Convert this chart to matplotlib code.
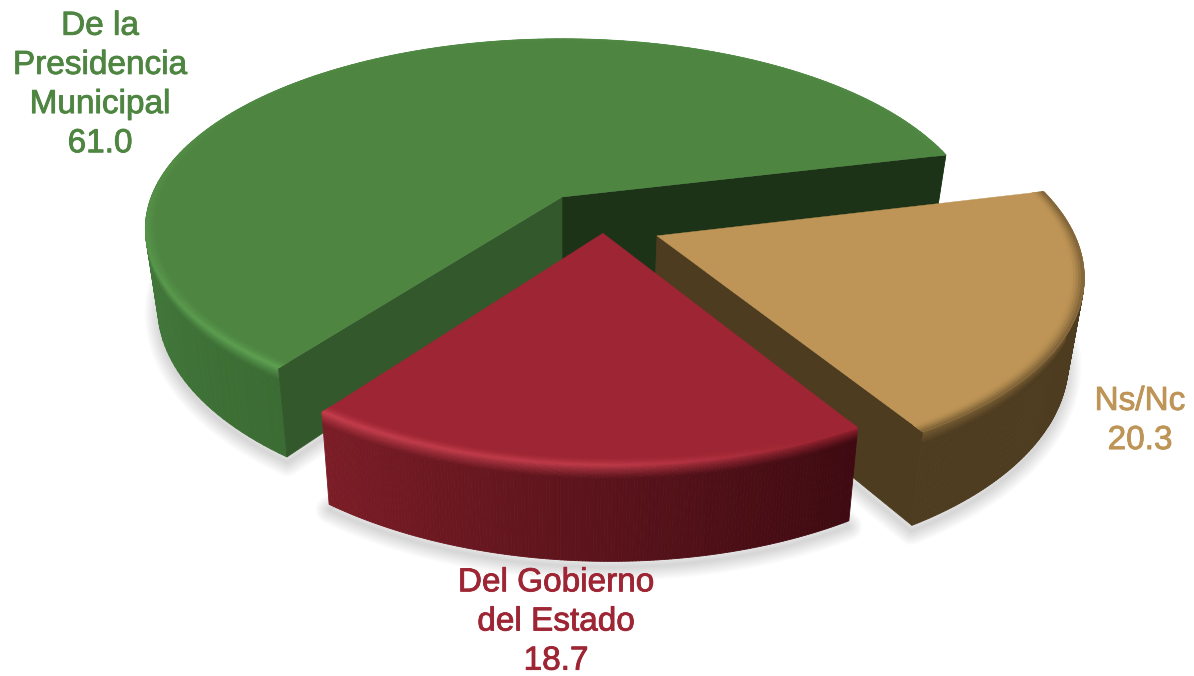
"""3D exploded pie, perspective worked out by hand (no mplot3d, its shading is too plain)."""
import numpy as np
import matplotlib
matplotlib.use("Agg")
import matplotlib.pyplot as plt
import matplotlib.patheffects as pe
from matplotlib.collections import PolyCollection
from matplotlib.colors import to_rgb

labels = ["De la\nPresidencia\nMunicipal", "Del Gobierno\ndel Estado", "Ns/Nc"]
values = [61.0, 18.7, 20.3]

top_colors = ["#4E8541", "#9E2533", "#BE9556"]
inner_colors = ["#1C3318", "#5E141C", "#4E3C20"]   # wall on the first radial edge
end_colors = ["#33582B", "#5E141C", "#4E3C20"]     # wall on the last radial edge
rim_colors = ["#5FA353", "#C8404F", "#7A5F35"]
wall_stops = [
    ([150, 200, 233], ["#44793C", "#41763A", "#3B6C33"]),
    ([233, 265, 301], ["#7C1D27", "#5E141C", "#3E0A11"]),
    ([300, 340, 380], ["#4E3C20", "#4E3C20", "#4E3C20"]),
]
rim_stops = [([150, 180, 233], [0.15, 0.4, 1.0]),
             ([233, 270, 295], [1.0, 0.8, 0.0]),
             ([300, 380], [1.0, 1.0])]
# slice apex on the disc and radius, in disc units
apex = [(0.0, 0.0), (0.095, -0.187), (0.22, -0.20)]
radius = [0.985, 0.965, 0.968]
inner_depth = [1.2, 1.0, 1.0]   # green's back wall runs on behind the other two

X0, Y0 = 562, 197
A, B, K, T = 417, 187.5, 0.17, 77
START = 13.7
RING = 0.03
BEVEL = 0.14


def project(u, v, z=0.0):
    u, v = np.asarray(u, float), np.asarray(v, float)
    w = 1 + K * v
    x = X0 + A * u / w * (1 - 0.03 * z)
    y = Y0 - B * v / w + T * z / w
    return np.column_stack([x, y])


def mix(c1, c2, t):
    return np.array(c1) * (1 - t) + np.array(c2) * t


def stop_color(ang, stops):
    xs, cols = stops
    rgb = np.array([to_rgb(c) for c in cols])
    return np.array([np.interp(ang, xs, rgb[:, i]) for i in range(3)])


def mesh(ax, polys, colors, zorder):
    ax.add_collection(PolyCollection(polys, facecolors=colors, edgecolors=colors,
                                     linewidths=0.6, zorder=zorder))


def draw_slice(ax, i, a0, a1, zorder):
    px, py = apex[i]
    r = radius[i]
    top = to_rgb(top_colors[i])
    rim = to_rgb(rim_colors[i])
    angs = np.linspace(a0, a1, 160)
    cu, cv = np.cos(np.radians(angs)), np.sin(np.radians(angs))

    # outer wall, back part of the arc is never seen
    zs = np.r_[np.linspace(0, BEVEL, 9), 1.0]
    polys, cols = [], []
    for j in range(len(angs) - 1):
        mid = (angs[j] + angs[j + 1]) / 2
        if np.sin(np.radians(mid)) > 0.3:
            continue
        wall = stop_color(mid, wall_stops[i])
        s = np.interp(mid, *rim_stops[i])
        edge = mix(top, rim, s)
        for k in range(len(zs) - 1):
            p0 = project(px + r * cu[j:j + 2], py + r * cv[j:j + 2], zs[k])
            p1 = project(px + r * cu[j:j + 2], py + r * cv[j:j + 2], zs[k + 1])
            polys.append(np.vstack([p0, p1[::-1]]))
            t = min((zs[k] + zs[k + 1]) / 2 / BEVEL, 1.0)
            cols.append(mix(edge, wall, t ** 0.8))
    mesh(ax, polys, cols, zorder)

    # radial walls, only those turned to the viewer
    for ang, out, col, depth in ((a0, a0 - 90, inner_colors[i], inner_depth[i]),
                                 (a1, a1 + 90, end_colors[i], 1.0)):
        if np.sin(np.radians(out)) >= 0:
            continue
        eu, ev = px + r * np.cos(np.radians(ang)), py + r * np.sin(np.radians(ang))
        pts = np.vstack([project([px, eu], [py, ev], 0), project([eu, px], [ev, py], depth)])
        ax.fill(pts[:, 0], pts[:, 1], color=col, lw=0.5, zorder=zorder + 0.1)

    # top face plus a soft ring along the arc
    pts = project(np.r_[px, px + r * cu], np.r_[py, py + r * cv])
    ax.fill(pts[:, 0], pts[:, 1], color=top, lw=0.3, zorder=zorder + 0.2)
    rs = np.linspace(1 - RING, 1, 6) * r
    polys, cols = [], []
    for j in range(len(angs) - 1):
        mid = (angs[j] + angs[j + 1]) / 2
        edge = mix(top, rim, np.interp(mid, *rim_stops[i]))
        for k in range(len(rs) - 1):
            p0 = project(px + rs[k] * cu[j:j + 2], py + rs[k] * cv[j:j + 2])
            p1 = project(px + rs[k + 1] * cu[j:j + 2], py + rs[k + 1] * cv[j:j + 2])
            polys.append(np.vstack([p0, p1[::-1]]))
            cols.append(mix(top, edge, ((k + 0.5) / (len(rs) - 1)) ** 1.5))
    mesh(ax, polys, cols, zorder + 0.3)


def draw_shadow(ax, i, a0, a1):
    px, py = apex[i]
    angs = np.radians(np.linspace(a0, a1, 120))
    u = np.r_[px, px + radius[i] * np.cos(angs)]
    v = np.r_[py, py + radius[i] * np.sin(angs)]
    pts = project(u, v, 1.06)
    # stacked wide strokes instead of a blur
    for lw in np.linspace(2, 20, 10):
        ax.fill(pts[:, 0], pts[:, 1], fc="none", ec="black", alpha=0.016, lw=lw,
                joinstyle="round", zorder=1)


def main():
    fig = plt.figure(figsize=(11.94, 6.76), dpi=100, facecolor="white")
    ax = fig.add_axes([0, 0, 1, 1])
    ax.set_xlim(0, 1194)
    ax.set_ylim(676, 0)
    ax.axis("off")

    edges = START + np.r_[0, np.cumsum(values)] / np.sum(values) * 360
    for i in range(3):
        draw_shadow(ax, i, edges[i], edges[i + 1])
    for z, i in enumerate((0, 2, 1)):
        draw_slice(ax, i, edges[i], edges[i + 1], 2 + z)

    spots = [(100, 85), (556, 622), (1140, 421)]
    for lab, val, col, (x, y) in zip(labels, values, top_colors, spots):
        ax.text(x, y, f"{lab}\n{val:.1f}", ha="center", va="center", color=col,
                fontsize=24, family="Liberation Sans", linespacing=1.34, zorder=10,
                path_effects=[pe.withStroke(linewidth=0.6, foreground=col)])

    fig.savefig("out.png", dpi=100)
    plt.close(fig)


if __name__ == "__main__":
    main()
